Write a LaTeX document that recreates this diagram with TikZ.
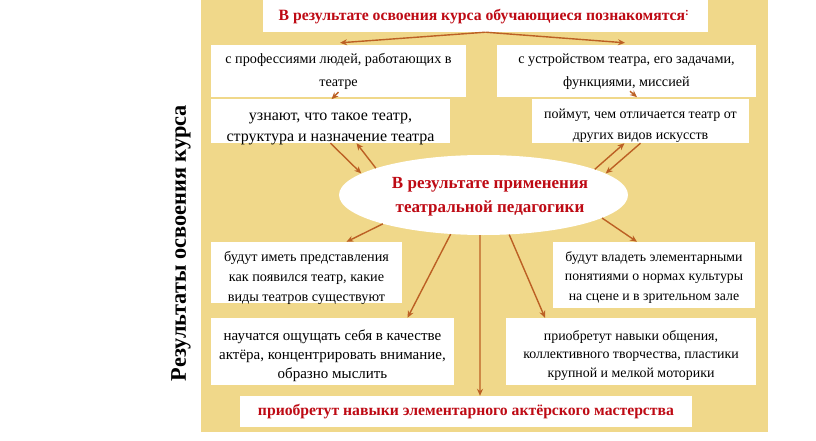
\documentclass[tikz,border=0pt]{standalone}
\usepackage{fontspec}
\setmainfont{Liberation Serif}
\usetikzlibrary{arrows.meta,shapes.geometric,calc}
\definecolor{bgyel}{RGB}{240,216,138}
\definecolor{arrc}{RGB}{188,96,36}
\definecolor{redt}{RGB}{190,10,20}
\tikzset{
  boxw/.style={fill=white,draw=none,inner sep=0pt},
  txt/.style={align=center,inner sep=0pt,font=\fontsize{14.2}{20}\selectfont},
  arr/.style={draw=arrc,line width=1.4pt,-{Stealth[length=7pt,width=6pt]}},
  redb/.style={text=redt,font=\fontsize{15.7}{24}\selectfont\bfseries,align=center,inner sep=0pt}
}
\begin{document}
\begin{tikzpicture}[x=1pt,y=-1pt]
\useasboundingbox (0,0) rectangle (816,441);
\fill[white] (0,0) rectangle (816,441);
\fill[bgyel] (201,0) rectangle (768,432);
% boxes
\node[boxw,minimum width=445pt,minimum height=32pt] (top) at (485.5,16) {};
\node[boxw,minimum width=255pt,minimum height=52pt] (p1) at (338.5,71) {};
\node[boxw,minimum width=259pt,minimum height=52pt] (p2) at (626.5,71) {};
\node[boxw,minimum width=239pt,minimum height=44pt] (p3) at (330.5,121) {};
\node[boxw,minimum width=217pt,minimum height=44pt] (p4) at (640.5,121) {};
\node[ellipse,fill=white,draw=none,minimum width=289pt,minimum height=80pt,inner sep=0pt] (e) at (483.5,195) {};
\node[boxw,minimum width=191pt,minimum height=61pt] (p5) at (306.5,272.5) {};
\node[boxw,minimum width=243pt,minimum height=67pt] (p6) at (332.5,351.5) {};
\node[boxw,minimum width=202pt,minimum height=66pt] (p7) at (654,275) {};
\node[boxw,minimum width=250pt,minimum height=67pt] (p8) at (631,351.5) {};
\node[boxw,minimum width=452pt,minimum height=31pt] (b) at (466,411.5) {};
% texts
\node[redb] (topt) at (484,17) {В результате освоения курса обучающиеся познакомятся\textsuperscript{:}};
\node[txt,font=\fontsize{14.2}{23}\selectfont] (p1t) at (338.5,71.5) {с профессиями людей, работающих в\\театре};
\node[txt,font=\fontsize{14.2}{23}\selectfont] (p2t) at (626.5,71.5) {с устройством театра, его задачами,\\функциями, миссией};
\node[txt,font=\fontsize{16}{21}\selectfont] (p3t) at (330.5,128.5) {узнают, что такое театр,\\структура и назначение театра};
\node[txt,font=\fontsize{14}{21}\selectfont] (p4t) at (640.5,125.5) {поймут, чем отличается театр от\\других видов искусств};
\node[redb,font=\fontsize{17}{24}\selectfont\bfseries] (et) at (490,197) {В результате применения\\театральной педагогики};
\node[txt] (p5t) at (306.5,278) {будут иметь представления\\как появился театр, какие\\виды театров существуют};
\node[txt,font=\fontsize{15}{19}\selectfont] (p6t) at (332.5,356) {научатся ощущать себя в качестве\\актёра, концентрировать внимание,\\образно мыслить};
\node[txt,font=\fontsize{13.8}{19.5}\selectfont] (p7t) at (654,277.5) {будут владеть элементарными\\понятиями о нормах культуры\\на сцене и в зрительном зале};
\node[txt,font=\fontsize{13.9}{18.5}\selectfont] (p8t) at (631,355.5) {приобретут навыки общения,\\коллективного творчества, пластики\\крупной и мелкой моторики};
\node[redb] (bt) at (466,412) {приобретут навыки элементарного актёрского мастерства};
\node[rotate=90,inner sep=0pt,font=\fontsize{22.3}{24}\selectfont\bfseries] (side) at (181,243) {Результаты освоения курса};
% arrows
\draw[arr] (top.south) -- ([xshift=1.5pt,yshift=2pt]p1.north);
\draw[arr] (top.south) -- ([xshift=-1.5pt,yshift=2pt]p2.north);
\draw[arr] ([yshift=5pt]p1.south) -- ([xshift=-7pt,yshift=-2pt]p1.south);
\draw[arr] ([xshift=3.5pt,yshift=6pt]p2.south) -- ([xshift=10.5pt]p2.south);
\draw[arr] (p3.south) -- (e.170);
\draw[arr] (e.166) -- ([xshift=26pt]p3.south);
\draw[arr] (e.13) -- ([xshift=-16pt]p4.south);
\draw[arr] (p4.south) -- (e.10);
\draw[arr] (e.196) -- ([xshift=40pt]p5.north);
\draw[arr] (e.230) -- ([xshift=75pt]p6.north);
\draw[arr] (e.265) -- ([xshift=14pt]b.north);
\draw[arr] (e.303) -- ([xshift=-86pt]p8.north);
\draw[arr] (e.349) -- ([xshift=-17pt]p7.north);
\end{tikzpicture}
\end{document}
